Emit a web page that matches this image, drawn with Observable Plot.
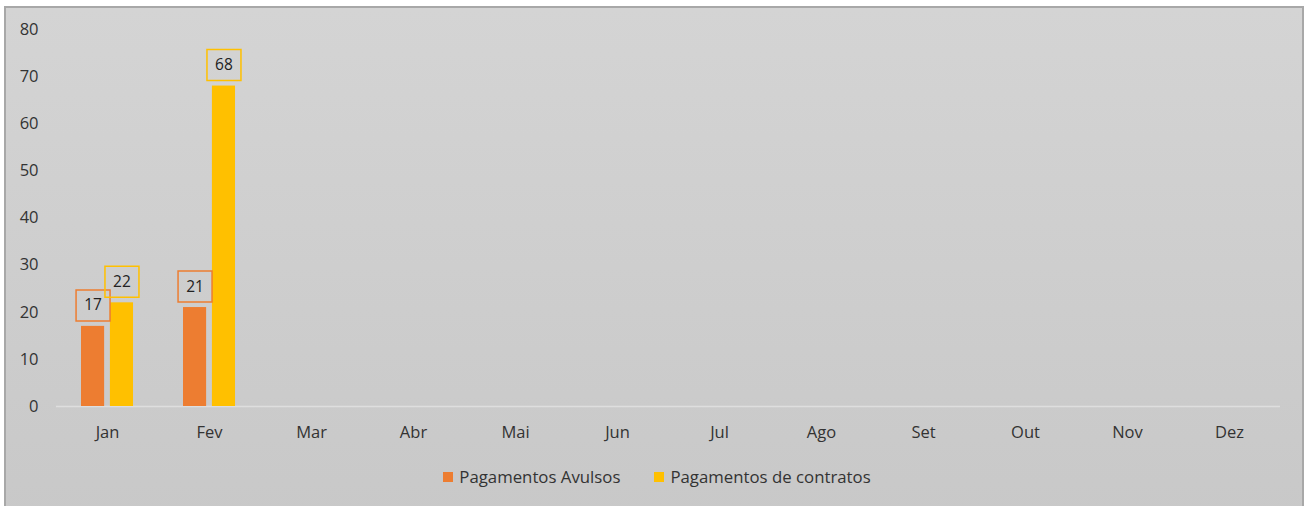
<!DOCTYPE html>
<html>
<head>
<meta charset="utf-8">
<script src="https://cdn.jsdelivr.net/npm/d3@7"></script>
<script src="https://cdn.jsdelivr.net/npm/@observablehq/plot@0.6"></script>
<style>
  html, body { margin: 0; padding: 0; background: #ffffff; }
  #page { position: relative; width: 1306px; height: 506px; overflow: hidden; }
  #box { position: absolute; left: 4px; top: 6px; width: 1300px; height: 520px; box-sizing: border-box;
         border: 2px solid #a8a8a8; background: linear-gradient(#d4d4d4, #c8c8c8); }
  #chart { position: absolute; left: 0; top: 0; }
  #legend { position: absolute; left: 0; top: 465px; width: 1314px; display: flex; justify-content: center;
            gap: 34px; font-family: "Open Sans", sans-serif; font-size: 16.8px; color: #333333; }
  .item { display: flex; align-items: center; gap: 6px; }
  .sw { width: 10px; height: 10px; display: inline-block; }
</style>
</head>
<body>
<div id="page">
  <div id="box"></div>
  <div id="chart"></div>
  <div id="legend"></div>
</div>
<script>
const months = ["Jan", "Fev", "Mar", "Abr", "Mai", "Jun", "Jul", "Ago", "Set", "Out", "Nov", "Dez"];
const series = ["Pagamentos Avulsos", "Pagamentos de contratos"];
const avulsos = [17, 21];
const contratos = [22, 68];
const colors = ["#ED7D31", "#FFC000"];
const yTicks = [0, 10, 20, 30, 40, 50, 60, 70, 80];

const data = [];
avulsos.forEach((v, i) => data.push({month: months[i], series: series[0], value: v}));
contratos.forEach((v, i) => data.push({month: months[i], series: series[1], value: v}));

const boxSymbol = { draw(ctx) { ctx.rect(-17, -15.5, 34, 31); } };

const font = "'Open Sans', sans-serif";

const chart = Plot.plot({
  width: 1306,
  height: 455,
  marginLeft: 81,
  marginRight: 51,
  marginTop: 29,
  marginBottom: 49,
  style: { background: "transparent", color: "#333333", fontFamily: font, fontSize: "16.5px" },
  fx: { domain: months, paddingInner: 0.49, paddingOuter: 0, round: false, label: null, tickSize: 0, tickPadding: 20, axis: "bottom" },
  x: { domain: series, paddingInner: 0.2, paddingOuter: 0, round: false, axis: null },
  y: { domain: [0, 80], ticks: yTicks, label: null, tickSize: 0, tickPadding: 43 },
  color: { domain: series, range: colors },
  marks: [
    Plot.ruleY(months, { fx: d => d, y: d => 0, stroke: "#dedede", strokeWidth: 1.5, insetLeft: -25, insetRight: -25 }),
    Plot.barY(data, { fx: "month", x: "series", y: "value", fill: "series" }),
    Plot.dot(data, { fx: "month", x: "series", y: "value", stroke: "series", fill: "none", strokeWidth: 1.5, symbol: boxSymbol, dy: -21 }),
    Plot.text(data, { fx: "month", x: "series", y: "value", text: d => String(d.value), dy: -21, fill: "#222222", fontSize: 15.5 })
  ]
});
document.getElementById("chart").appendChild(chart);

const legend = document.getElementById("legend");
series.forEach((s, i) => {
  const item = document.createElement("div");
  item.className = "item";
  const sw = document.createElement("span");
  sw.className = "sw";
  sw.style.background = colors[i];
  const t = document.createElement("span");
  t.textContent = s;
  item.appendChild(sw);
  item.appendChild(t);
  legend.appendChild(item);
});
</script>
</body>
</html>
